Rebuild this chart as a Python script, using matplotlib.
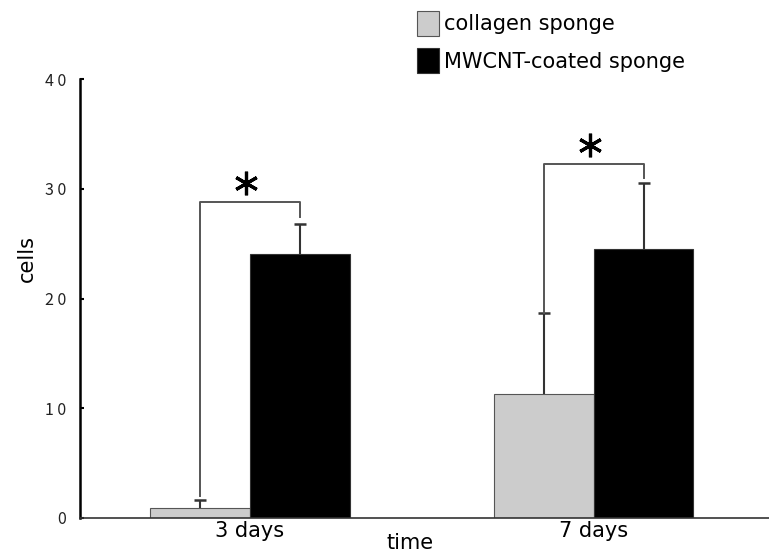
import numpy as np
import matplotlib.pyplot as plt

# data
groups = ['3 days', '7 days']
collagen = [0.9, 11.3]
collagen_err = [0.7, 7.4]
mwcnt = [24.1, 24.5]
mwcnt_err = [2.7, 6.0]
# significance brackets: top level, gap above each error bar
bracket_top = [28.8, 32.3]
bracket_gap_left = [0.4, 0.0]
bracket_gap_right = [0.6, 0.5]

x = np.arange(len(groups))
width = 0.29

fig = plt.figure(figsize=(7.69, 5.52), dpi=100)
ax = fig.add_axes([0.104, 0.0616, 0.896, 0.795])

b1 = ax.bar(x - width / 2, collagen, width, color='#cccccc', edgecolor='#555555',
            linewidth=0.8, label='collagen sponge', zorder=2)
b2 = ax.bar(x + width / 2, mwcnt, width, color='black', edgecolor='#333333',
            linewidth=0.8, label='MWCNT-coated sponge', zorder=2)

# error bars only upwards, cap only at the top
for xs, vals, errs in [(x - width / 2, collagen, collagen_err),
                       (x + width / 2, mwcnt, mwcnt_err)]:
    tops = np.array(vals) + np.array(errs)
    ax.vlines(xs, vals, tops, colors='#333333', linewidth=1.5, zorder=3)
    ax.plot(xs, tops, linestyle='none', marker='_', markersize=8,
            markeredgewidth=1.8, color='#333333', zorder=3)

# brackets with asterisks
for i in range(len(groups)):
    xl = x[i] - width / 2
    xr = x[i] + width / 2
    yl = collagen[i] + collagen_err[i] + bracket_gap_left[i]
    yr = mwcnt[i] + mwcnt_err[i] + bracket_gap_right[i]
    ax.plot([xl, xl, xr, xr], [yl, bracket_top[i], bracket_top[i], yr],
            color='#555555', linewidth=1.4, zorder=3)
    ax.plot(x[i] - 0.01, bracket_top[i] + 1.7, marker=(6, 2, 0), markersize=17,
            markeredgewidth=2.3, color='black', zorder=4)

ax.set_xlim(-0.494, 1.51)
ax.set_ylim(0, 40)
ax.set_yticks([0, 10, 20, 30, 40])
ax.set_yticklabels(['0', '1 0', '2 0', '3 0', '4 0'], family='Noto Sans CJK JP',
                   fontsize=11.5, color='#222222')
ax.set_xticks(x)
ax.set_xticklabels(groups, fontsize=15)
ax.tick_params(axis='x', length=0, pad=2)
ax.tick_params(axis='y', direction='in', length=3, width=1.5, pad=10)

ax.spines['top'].set_visible(False)
ax.spines['right'].set_visible(False)
ax.spines['left'].set_linewidth(1.8)
ax.spines['bottom'].set_linewidth(1.2)
ax.spines['bottom'].set_color('#333333')

ax.set_ylabel('cells', fontsize=15)
ax.yaxis.set_label_coords(-0.062, 0.592)
ax.set_xlabel('time', fontsize=15)
ax.xaxis.set_label_coords(0.479, -0.035)

fig.legend(handles=[b1, b2], loc='upper left', bbox_to_anchor=(0.522, 1.008),
           frameon=False, fontsize=15, handlelength=1.05, handleheight=1.45,
           handletextpad=0.25, labelspacing=0.6, borderaxespad=0.35)

plt.savefig('out.png', dpi=100)
